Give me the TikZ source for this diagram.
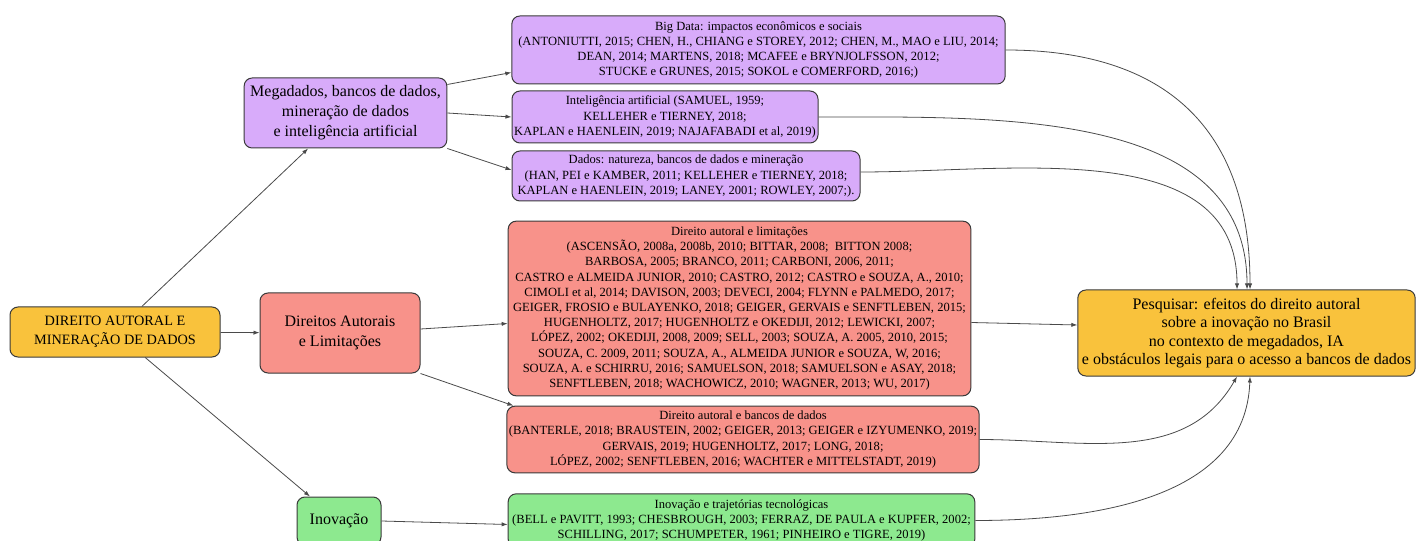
\documentclass[tikz,border=0pt]{standalone}
\usepackage{fontspec}
\setmainfont{Liberation Serif}
\usepackage{xcolor}
\definecolor{ambar}{HTML}{F9C23C}
\definecolor{lilas}{HTML}{D8ABFA}
\definecolor{salmao}{HTML}{F8928A}
\definecolor{verde}{HTML}{8DE98F}
\definecolor{borda}{HTML}{3A3A3A}
\definecolor{seta}{HTML}{4A4A4A}
\usetikzlibrary{positioning,calc,arrows.meta}

\begin{document}
\begin{tikzpicture}[x=0.75pt,y=0.75pt,
  bx/.style={draw=borda,line width=0.75pt,rounded corners=6pt,align=center,inner sep=1.5pt},
  tema/.style={bx,font=\fontsize{12}{15}\selectfont},
  refs/.style={bx,font=\fontsize{9.4}{11.4}\selectfont},
  lnk/.style={-{Latex[length=4.5pt,width=3.2pt]},seta,line width=0.6pt}]
  \useasboundingbox (0,0) rectangle (1416,-541);
  % temas
  \node[tema,fill=ambar,minimum width=157.5pt,minimum height=37.5pt,font=\fontsize{10.7}{14.5}\selectfont] (raiz) at (115,-332) {DIREITO AUTORAL E\\MINERAÇÃO DE DADOS};
  \node[tema,fill=lilas,minimum width=152pt,minimum height=52.5pt] (mega) at (345.5,-113) {Megadados, bancos de dados,\\mineração de dados\\ e inteligência artificial};
  \node[tema,fill=salmao,minimum width=120pt,minimum height=60pt] (dir) at (340,-333) {Direitos Autorais\\e Limitações};
  \node[tema,fill=verde,minimum width=63pt,minimum height=36pt] (inov) at (339,-521) {Inovação};
  % referencias
  \node[refs,fill=lilas,minimum width=370pt,minimum height=51pt] (bigdata) at (758.5,-50) {Big Data: impactos econômicos e sociais\\(ANTONIUTTI, 2015; CHEN, H., CHIANG e STOREY, 2012; CHEN, M., MAO e LIU, 2014;\\DEAN, 2014; MARTENS, 2018; MCAFEE e BRYNJOLFSSON, 2012;\\STUCKE e GRUNES, 2015; SOKOL e COMERFORD, 2016;)};
  \node[refs,fill=lilas,minimum width=229.5pt,minimum height=39pt] (ia) at (665,-117) {Inteligência artificial (SAMUEL, 1959;\\KELLEHER e TIERNEY, 2018;\\KAPLAN e HAENLEIN, 2019; NAJAFABADI et al, 2019)};
  \node[refs,fill=lilas,minimum width=261pt,minimum height=37.5pt] (dados) at (686,-176) {Dados: natureza, bancos de dados e mineração\\ (HAN, PEI e KAMBER, 2011; KELLEHER e TIERNEY, 2018;\\KAPLAN e HAENLEIN, 2019; LANEY, 2001; ROWLEY, 2007;).};
  \node[refs,fill=salmao,minimum width=347pt,minimum height=131pt] (dal) at (739.5,-308.5) {Direito autoral e limitações\\(ASCENSÃO, 2008a, 2008b, 2010; BITTAR, 2008;\ \ BITTON 2008;\\BARBOSA, 2005; BRANCO, 2011; CARBONI, 2006, 2011;\\CASTRO e ALMEIDA JUNIOR, 2010; CASTRO, 2012; CASTRO e SOUZA, A., 2010;\\CIMOLI et al, 2014; DAVISON, 2003; DEVECI, 2004; FLYNN e PALMEDO, 2017;\\GEIGER, FROSIO e BULAYENKO, 2018; GEIGER, GERVAIS e SENFTLEBEN, 2015;\\HUGENHOLTZ, 2017; HUGENHOLTZ e OKEDIJI, 2012; LEWICKI, 2007;\\LÓPEZ, 2002; OKEDIJI, 2008, 2009; SELL, 2003; SOUZA, A. 2005, 2010, 2015;\\SOUZA, C. 2009, 2011; SOUZA, A., ALMEIDA JUNIOR e SOUZA, W, 2016;\\SOUZA, A. e SCHIRRU, 2016; SAMUELSON, 2018; SAMUELSON e ASAY, 2018;\\SENFTLEBEN, 2018; WACHOWICZ, 2010; WAGNER, 2013; WU, 2017)};
  \node[refs,fill=salmao,minimum width=352.5pt,minimum height=50pt] (dabd) at (743,-439.5) {Direito autoral e bancos de dados\\(BANTERLE, 2018; BRAUSTEIN, 2002; GEIGER, 2013; GEIGER e IZYUMENKO, 2019;\\GERVAIS, 2019; HUGENHOLTZ, 2017; LONG, 2018;\\LÓPEZ, 2002; SENFTLEBEN, 2016; WACHTER e MITTELSTADT, 2019)};
  \node[refs,fill=verde,minimum width=350pt,minimum height=40pt] (it) at (741.5,-520.5) {Inovação e trajetórias tecnológicas\\(BELL e PAVITT, 1993; CHESBROUGH, 2003; FERRAZ, DE PAULA e KUPFER, 2002;\\SCHILLING, 2017; SCHUMPETER, 1961; PINHEIRO e TIGRE, 2019)};
  % objetivo
  \node[tema,fill=ambar,minimum width=253pt,minimum height=64.5pt,font=\fontsize{12}{13.9}\selectfont] (pesq) at (1246.5,-333) {Pesquisar: efeitos do direito autoral\\sobre a inovação no Brasil\\no contexto de megadados, IA\\e obstáculos legais para o acesso a bancos de dados};
  % ligacoes
  \draw[lnk] (raiz) -- (mega);
  \draw[lnk] (raiz) -- (dir);
  \draw[lnk] (raiz) -- (inov);
  \draw[lnk] ($(mega.north east)+(0,-7)$) -- ($(bigdata.south west)+(0,12)$);
  \draw[lnk] (mega.east) -- (ia.west);
  \draw[lnk] (mega.south east) -- ($(dados.west)+(0,6)$);
  \draw[lnk] ($(dir.east)+(0,4)$) -- ($(dal.west)+(0,-15)$);
  \draw[lnk] (dir.south east) -- ($(dabd.north west)+(7,0)$);
  \draw[lnk] (inov.east) -- ($(it.west)+(0,-4)$);
  \draw[lnk] ($(dal.east)+(0,-14)$) -- ($(pesq.west)+(0,8)$);
  \draw[lnk] (bigdata.east) to[out=0,in=90,looseness=1.2] ($(pesq.north)+(3.5,0)$);
  \draw[lnk] (ia.east) to[out=0,in=90] ($(pesq.north)+(0.5,0)$);
  \draw[lnk] ($(dados.east)+(0,4)$) to[out=0,in=90] ($(pesq.north)+(-9.5,0)$);
  \draw[lnk] (dabd.east) to[out=0,in=-120] ($(pesq.south)+(-9.5,0)$);
  \draw[lnk] (it.east) to[out=0,in=-92] ($(pesq.south)+(3.5,0)$);
\end{tikzpicture}
\end{document}
